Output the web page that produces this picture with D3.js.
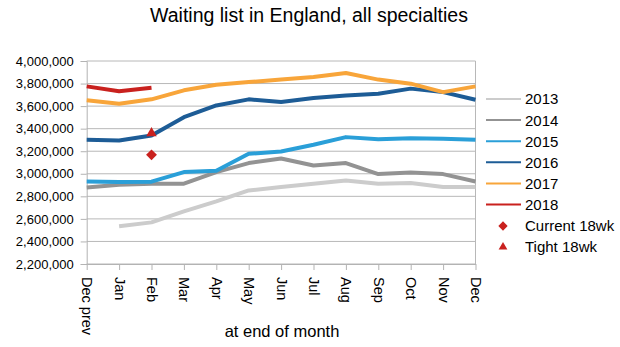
<!DOCTYPE html>
<html lang="en">
<head>
<meta charset="UTF-8">
<title>Waiting list in England</title>
<script src="https://cdn.jsdelivr.net/npm/d3@7"></script>
<style>
  body { margin: 0; background: #fff; }
  text { font-family: "Liberation Sans", Arial, sans-serif; fill: #000; }
</style>
</head>
<body>
<div id="chart"></div>
<script>
// month categories along the x axis
var months = ["Dec prev", "Jan", "Feb", "Mar", "Apr", "May", "Jun", "Jul", "Aug", "Sep", "Oct", "Nov", "Dec"];

// waiting list size per year (end of month)
var y2013 = [null, 2534000, 2569000, 2667000, 2755000, 2852000, 2882000, 2912000, 2941000, 2912000, 2918000, 2882000, 2882000];
var y2014 = [2879000, 2903000, 2912000, 2912000, 3015000, 3095000, 3135000, 3074000, 3095000, 2997000, 3012000, 2997000, 2932000];
var y2015 = [2932000, 2928000, 2930000, 3015000, 3027000, 3177000, 3197000, 3257000, 3325000, 3307000, 3316000, 3310000, 3301000];
var y2016 = [3301000, 3295000, 3340000, 3502000, 3606000, 3660000, 3636000, 3671000, 3695000, 3710000, 3755000, 3724000, 3657000];
var y2017 = [3651000, 3621000, 3660000, 3740000, 3790000, 3813000, 3835000, 3858000, 3893000, 3835000, 3799000, 3724000, 3775000];
var y2018 = [3775000, 3731000, 3763000];

// 18 week markers
var current18wk = [{month: "Feb", value: 3168000}];
var tight18wk = [{month: "Feb", value: 3360000}];

var yTicks = [2200000, 2400000, 2600000, 2800000, 3000000, 3200000, 3400000, 3600000, 3800000, 4000000];

var series = [
    {name: "2013", values: y2013, color: "#cccccc"},
    {name: "2014", values: y2014, color: "#939393"},
    {name: "2015", values: y2015, color: "#2a9fd8"},
    {name: "2016", values: y2016, color: "#1d5c96"},
    {name: "2017", values: y2017, color: "#f8a53a"},
    {name: "2018", values: y2018, color: "#c9211e"}
];
var markerColor = "#c9211e";

function draw() {
    var width = 620, height = 347;
    var plot = {left: 86.7, right: 475.5, top: 61, bottom: 264};

    var svg = d3.select("#chart").append("svg")
        .attr("width", width)
        .attr("height", height);

    var x = d3.scalePoint()
        .domain(months)
        .range([plot.left, plot.right]);

    var y = d3.scaleLinear()
        .domain([2200000, 4000000])
        .range([plot.bottom, plot.top]);

    // title
    svg.append("text")
        .attr("x", 309)
        .attr("y", 22)
        .attr("text-anchor", "middle")
        .style("font-size", "19.5px")
        .text("Waiting list in England, all specialties");

    // horizontal gridlines
    svg.append("g")
        .selectAll("line")
        .data(yTicks)
        .enter()
        .append("line")
            .attr("x1", plot.left)
            .attr("x2", plot.right)
            .attr("y1", function (d) { return y(d); })
            .attr("y2", function (d) { return y(d); })
            .attr("stroke", "#b8b8b8")
            .attr("stroke-width", 1);

    // y axis
    var yAxis = svg.append("g")
        .attr("transform", "translate(" + plot.left + ",0)")
        .call(d3.axisLeft(y).tickValues(yTicks).tickSize(6).tickPadding(7)
            .tickFormat(d3.format(",")));
    yAxis.selectAll("path, line").attr("stroke", "#b3b3b3");
    yAxis.selectAll("text").style("font-size", "13px")
        .style("font-family", "'Liberation Sans', Arial, sans-serif");

    // right border
    svg.append("line")
        .attr("x1", plot.right).attr("x2", plot.right)
        .attr("y1", plot.top).attr("y2", plot.bottom)
        .attr("stroke", "#b8b8b8");

    // x axis
    var xAxis = svg.append("g")
        .attr("transform", "translate(0," + plot.bottom + ")")
        .call(d3.axisBottom(x).tickSize(6).tickSizeOuter(0));
    xAxis.selectAll("path, line").attr("stroke", "#b3b3b3");
    xAxis.selectAll("text")
        .style("font-size", "14.5px")
        .style("font-family", "'Liberation Sans', Arial, sans-serif")
        .attr("text-anchor", "start")
        .attr("x", 0)
        .attr("y", 0)
        .attr("dy", "0.35em")
        .attr("transform", "translate(0,13) rotate(90)");

    svg.append("text")
        .attr("x", 282)
        .attr("y", 337)
        .attr("text-anchor", "middle")
        .style("font-size", "16.5px")
        .text("at end of month");

    // lines
    var line = d3.line()
        .defined(function (d) { return d != null; })
        .x(function (d, i) { return x(months[i]); })
        .y(function (d) { return y(d); });

    svg.append("g")
        .selectAll("path")
        .data(series)
        .enter()
        .append("path")
            .attr("d", function (d) { return line(d.values); })
            .attr("fill", "none")
            .attr("stroke", function (d) { return d.color; })
            .attr("stroke-width", 4)
            .attr("stroke-linejoin", "round");

    // markers
    svg.append("g")
        .selectAll("path")
        .data(current18wk)
        .enter()
        .append("path")
            .attr("d", d3.symbol().type(d3.symbolDiamond2).size(75))
            .attr("transform", function (d) { return "translate(" + x(d.month) + "," + y(d.value) + ")"; })
            .attr("fill", markerColor);

    svg.append("g")
        .selectAll("path")
        .data(tight18wk)
        .enter()
        .append("path")
            .attr("d", d3.symbol().type(d3.symbolTriangle2).size(80))
            .attr("transform", function (d) { return "translate(" + x(d.month) + "," + y(d.value) + ")"; })
            .attr("fill", markerColor);

    // legend
    var legend = svg.append("g").attr("transform", "translate(486,0)");
    series.forEach(function (s, i) {
        var ly = 99 + i * 21.1;
        legend.append("line")
            .attr("x1", 0).attr("x2", 35)
            .attr("y1", ly).attr("y2", ly)
            .attr("stroke", s.color)
            .attr("stroke-width", 2);
        legend.append("text")
            .attr("x", 39)
            .attr("y", ly)
            .attr("dy", "0.36em")
            .style("font-size", "15px")
            .text(s.name);
    });

    legend.append("path")
        .attr("d", d3.symbol().type(d3.symbolDiamond2).size(55))
        .attr("transform", "translate(17,226)")
        .attr("fill", markerColor);
    legend.append("text")
        .attr("x", 39).attr("y", 226).attr("dy", "0.36em")
        .style("font-size", "15px")
        .text("Current 18wk");

    legend.append("path")
        .attr("d", d3.symbol().type(d3.symbolTriangle2).size(55))
        .attr("transform", "translate(17,247)")
        .attr("fill", markerColor);
    legend.append("text")
        .attr("x", 39).attr("y", 247).attr("dy", "0.36em")
        .style("font-size", "15px")
        .text("Tight 18wk");
}

draw();
</script>
</body>
</html>
